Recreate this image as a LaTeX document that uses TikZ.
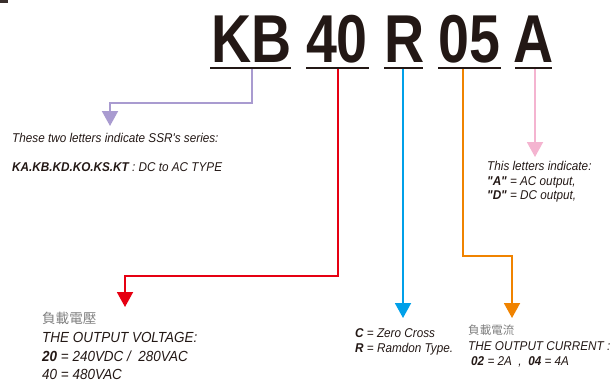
\documentclass[tikz,border=0pt]{standalone}
\usepackage{fontspec}
\usetikzlibrary{arrows.meta}
\setmainfont{Liberation Sans}
\newfontfamily\bigfont[FakeStretch=0.82]{Liberation Sans}
\newfontfamily\txtfont[FakeStretch=0.92]{Liberation Sans}
\newfontfamily\cjkfont{Noto Sans CJK TC}
\definecolor{ink}{HTML}{231815}
\definecolor{cpur}{HTML}{A99BD0}
\definecolor{cred}{HTML}{E60012}
\definecolor{cblue}{HTML}{00A0E9}
\definecolor{corange}{HTML}{F08300}
\definecolor{cpink}{HTML}{F4B4D0}
\definecolor{cgray}{HTML}{808080}
\tikzset{
  big/.style={font=\bigfont\bfseries\fontsize{68}{68}\selectfont, text=ink, inner sep=0, anchor=base},
  uline/.style={line width=2.6bp, draw=ink},
  conn/.style={line width=1.9bp, -{Triangle[width=16bp,length=15bp]}},
  lbl/.style={font=\txtfont\itshape\fontsize{12.8}{14}\selectfont, text=ink, inner sep=0, anchor=base west},
  lblbig/.style={font=\txtfont\itshape\fontsize{14.7}{16}\selectfont, text=ink, inner sep=0, anchor=base west},
  cjk/.style={font=\cjkfont\fontsize{#1}{#1}\selectfont, text=cgray, inner sep=0, anchor=base west},
}
\begin{document}
\begin{tikzpicture}[x=1bp,y=-1bp]
\useasboundingbox (0,0) rectangle (612,382);
\fill[ink!90] (0,0) rectangle (8,3);
% code letters
\node[big] (kb) at (251.5,62) {KB};
\node[big] (v40) at (337,62) {40};
\node[big] (r) at (404.5,62) {R};
\node[big] (c05) at (469.5,62) {05};
\node[big] (a) at (533.5,62) {A};
% underlines
\draw[uline] (210,68) -- (291,68);
\draw[uline] (306,68) -- (369,68);
\draw[uline] (384,68) -- (423,68);
\draw[uline] (438,68) -- (501,68);
\draw[uline] (515,68) -- (552,68);
% connector anchors
\coordinate (kbU) at (252,69);
\coordinate (v40U) at (338,69);
\coordinate (rU) at (403,69);
\coordinate (c05U) at (463,69);
\coordinate (aU) at (535,69);
\coordinate (kbT) at (110,126);
\coordinate (v40T) at (125,307);
\coordinate (rT) at (403,318);
\coordinate (c05T) at (512,318);
\coordinate (aT) at (535,157);
% connectors
\draw[conn, cpur] (kbU) -- (252,103) -| (kbT);
\draw[conn, cred] (v40U) -- (338,276) -| (v40T);
\draw[conn, cblue] (rU) -- (rT);
\draw[conn, corange] (c05U) -- (463,256) -| (c05T);
\draw[conn, cpink] (aU) -- (aT);
% left text
\node[lbl] (s1) at (12,142.3) {These two letters indicate SSR's series:};
\node[lbl] (s2) at (12,171.5) {\bfseries KA.KB.KD.KO.KS.KT\mdseries\ : DC to AC TYPE};
% pink text
\node[lbl] (p1) at (487,170) {This letters indicate:};
\node[lbl] (p2) at (487,185) {\bfseries"A"\mdseries\ = AC output,};
\node[lbl] (p3) at (487,199.5) {\bfseries"D"\mdseries\ = DC output,};
% red text
\node[cjk=13.6] (v0) at (42,323) {負載電壓};
\node[lblbig] (v1) at (42,342) {THE OUTPUT VOLTAGE:};
\node[lblbig] (v2) at (42,361.5) {\bfseries 20\mdseries\ = 240VDC /\ \ 280VAC};
\node[lblbig] (v3) at (42,379.5) {40 = 480VAC};
% blue text
\node[lbl] (b1) at (355,337) {\bfseries C\mdseries\ = Zero Cross};
\node[lbl] (b2) at (355,352) {\bfseries R\mdseries\ = Ramdon Type.};
% orange text
\node[cjk=11.6] (o0) at (468,334) {負載電流};
\node[lbl] (o1) at (468,350) {THE OUTPUT CURRENT :};
\node[lbl] (o2) at (471,365.5) {\bfseries 02\mdseries\ = 2A\ \ ,\ \ \bfseries 04\mdseries\ = 4A};
\end{tikzpicture}
\end{document}
